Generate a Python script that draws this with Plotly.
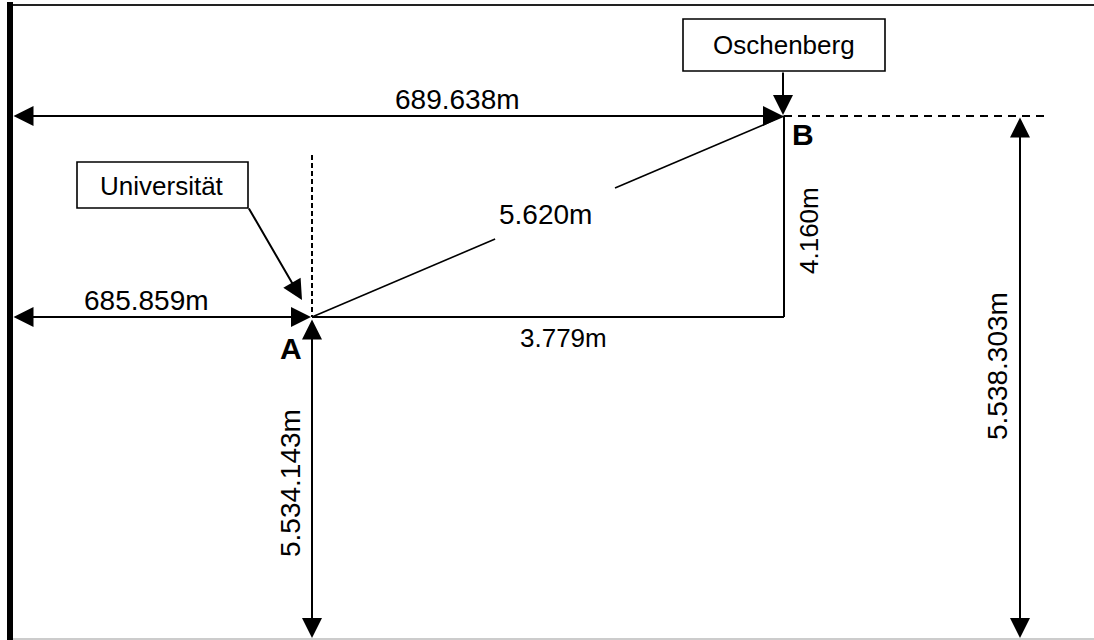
import plotly.graph_objects as go

# ---- data (diagram coordinates, pixel-like, y grows downward) ----
POINT_NAMES = ["A", "B"]
POINT_X = [312, 784]
POINT_Y = [317, 116]

PLACE_NAMES = ["Universität", "Oschenberg"]
DIM_LABELS = ["689.638m", "685.859m", "5.620m", "3.779m", "4.160m", "5.534.143m", "5.538.303m"]

W, H = 1094, 640
FONT = "Arial, 'Liberation Sans', sans-serif"
BLACK = "#000000"

ax_, ay_ = POINT_X[0], POINT_Y[0]
bx_, by_ = POINT_X[1], POINT_Y[1]

fig = go.Figure()
# invisible trace to establish axes
fig.add_trace(go.Scatter(x=POINT_X, y=POINT_Y, mode="markers",
                         marker=dict(size=1, color="rgba(0,0,0,0)"),
                         hoverinfo="skip", showlegend=False))

shapes = []
def line(x0, y0, x1, y1, width=2, color=BLACK, dash="solid"):
    shapes.append(dict(type="line", xref="x", yref="y", x0=x0, y0=y0, x1=x1, y1=y1,
                       line=dict(color=color, width=width, dash=dash)))

# frame
line(7, 5, W, 5, width=2, color="#222222")
line(10, 2, 10, H, width=6, color=BLACK)
line(13, 639, W, 639, width=1, color="#999999")

# triangle A-B
line(ax_, ay_, bx_, ay_, width=2)
line(bx_, ay_, bx_, by_, width=2)
t0, t1 = 0.388, 0.642
line(ax_, ay_, ax_ + t0 * (bx_ - ax_), ay_ + t0 * (by_ - ay_), width=1.6)
line(ax_ + t1 * (bx_ - ax_), ay_ + t1 * (by_ - ay_), bx_, by_, width=1.6)

# dashed helper lines
line(bx_, by_, 1045, by_, width=2, dash="8px,6px")
line(ax_, 155, ax_, ay_, width=2, dash="5px,3px")

# label boxes
boxes = [(77, 162, 248, 208), (683, 19, 885, 71)]
for (x0, y0, x1, y1) in boxes:
    shapes.append(dict(type="rect", xref="x", yref="y", x0=x0, y0=y0, x1=x1, y1=y1,
                       line=dict(color=BLACK, width=1.6), fillcolor="white"))

annotations = []
def arrow(x0, y0, x1, y1, double=True):
    annotations.append(dict(x=x1, y=y1, ax=x0, ay=y0, xref="x", yref="y",
                            axref="x", ayref="y", text="", showarrow=True,
                            arrowhead=2, startarrowhead=2, arrowsize=2.0,
                            startarrowsize=2.0, arrowwidth=2, arrowcolor=BLACK,
                            arrowside="end+start" if double else "end",
                            standoff=0, startstandoff=0))

arrow(12, by_, bx_ - 1, by_)            # 689.638m
arrow(12, ay_, ax_ - 1, ay_)            # 685.859m
arrow(ax_, ay_ + 1, ax_, 638)           # 5.534.143m
arrow(1020, by_, 1020, 638)             # 5.538.303m
arrow(248, 207, 302, 300, double=False) # Universität pointer
arrow(783, 71, 783, by_ - 1, double=False)  # Oschenberg pointer

def text(s, x, y, size, angle=0, bold=False):
    annotations.append(dict(x=x, y=y, xref="x", yref="y", text=("<b>%s</b>" % s) if bold else s,
                            showarrow=False, textangle=angle,
                            font=dict(family=FONT, size=size, color=BLACK),
                            xanchor="center", yanchor="middle"))

text(PLACE_NAMES[0], 162, 186, 26)
text(PLACE_NAMES[1], 784, 45, 26)
text(DIM_LABELS[0], 457, 99, 28)
text(DIM_LABELS[1], 146, 300, 28)
text(DIM_LABELS[2], 545, 214, 28)
text(DIM_LABELS[3], 563, 338, 26)
text(DIM_LABELS[4], 809, 231, 26, angle=-90)
text(DIM_LABELS[5], 290, 483, 28, angle=-90)
text(DIM_LABELS[6], 997, 366, 28, angle=-90)
text(POINT_NAMES[0], 291, 348, 30, bold=True)
text(POINT_NAMES[1], 803, 134, 30, bold=True)

fig.update_layout(
    width=W, height=H, margin=dict(l=0, r=0, t=0, b=0),
    paper_bgcolor="white", plot_bgcolor="white",
    xaxis=dict(range=[0, W], visible=False, fixedrange=True),
    yaxis=dict(range=[H, 0], visible=False, fixedrange=True),
    shapes=shapes, annotations=annotations, showlegend=False,
)

fig.write_html("out.html", config={"displayModeBar": False},
               post_script="document.body.style.margin='0';document.body.style.overflow='hidden';")
